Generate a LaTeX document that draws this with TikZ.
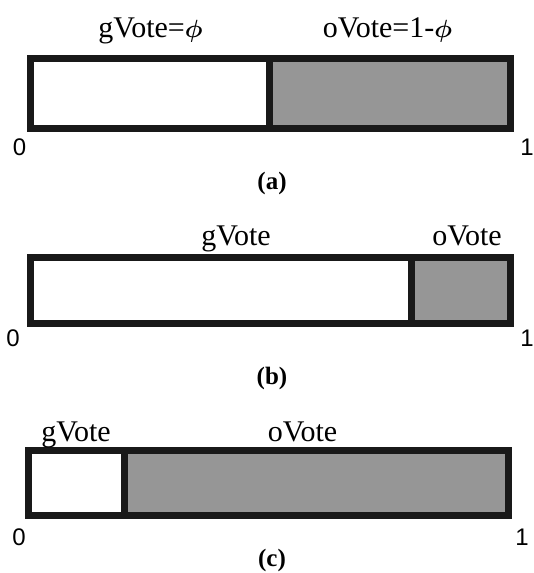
\documentclass[tikz,border=0pt]{standalone}
\usepackage{fontspec}
\setmainfont{Liberation Serif}
\newfontfamily\digitfont{Liberation Sans}
\newcommand{\phisym}{{\boldmath$\phi$}}
\tikzset{
  frame/.style={draw=black!90, line width=7pt},
  oshare/.style={fill=black!41},
  lbl/.style={font=\fontsize{30}{32}\selectfont, inner sep=0pt, anchor=base},
  tick/.style={font=\digitfont\fontsize{24}{26}\selectfont, inner sep=0pt, anchor=base},
  subcap/.style={font=\bfseries\fontsize{25}{27}\selectfont, inner sep=0pt, anchor=base}
}
\begin{document}
\begin{tikzpicture}[x=1pt,y=-1pt]
\useasboundingbox (0,0) rectangle (533,573);

% (a) equal split at phi
\fill[oshare] (269,58.5) rectangle (510.5,128.5);
\draw[frame] (30.5,58.5) rectangle (510.5,128.5);
\draw[frame] (269,58.5) -- (269,128.5);
\node[lbl] (ga) at (150.5,37) {gVote=\phisym};
\node[lbl] (oa) at (387.5,37) {oVote=1-\phisym};
\node[tick] (za) at (19.5,155) {0};
\node[tick] (ua) at (527,155) {1};
\node[subcap] (ca) at (272,189) {(a)};

% (b) large gVote share
\fill[oshare] (411,257) rectangle (510.5,323);
\draw[frame] (30.5,257) rectangle (510.5,323);
\draw[frame] (411,257) -- (411,323);
\node[lbl] (gb) at (236,245) {gVote};
\node[lbl] (ob) at (467,245) {oVote};
\node[tick] (zb) at (13,346) {0};
\node[tick] (ub) at (527,346) {1};
\node[subcap] (cb) at (272,384) {(b)};

% (c) small gVote share
\fill[oshare] (124,450.5) rectangle (508.5,515.5);
\draw[frame] (28,450.5) rectangle (508.5,515.5);
\draw[frame] (124,450.5) -- (124,515.5);
\node[lbl] (gc) at (76,441) {gVote};
\node[lbl] (oc) at (302.5,441) {oVote};
\node[tick] (zc) at (19,545) {0};
\node[tick] (uc) at (522,545) {1};
\node[subcap] (cc) at (272,566) {(c)};
\end{tikzpicture}
\end{document}
